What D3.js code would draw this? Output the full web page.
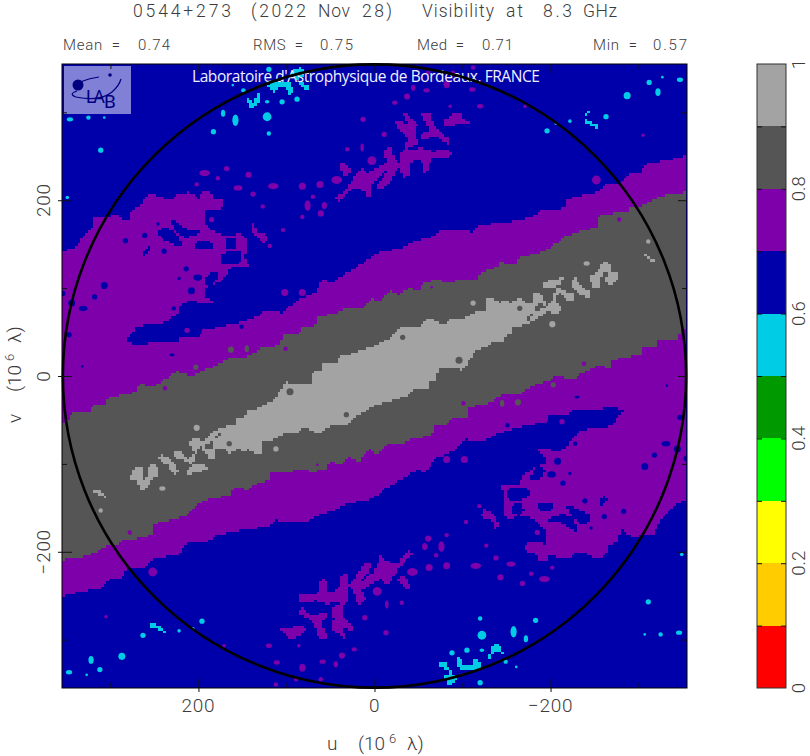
<!DOCTYPE html>
<html><head><meta charset="utf-8">
<style>html,body{margin:0;padding:0;background:#fff}svg{display:block}
text{font-family:Roboto,"Liberation Sans",sans-serif;font-weight:300;fill:#3c3c3c;white-space:pre}</style>
<script src="https://cdn.jsdelivr.net/npm/d3@7"></script></head><body><div id="c"></div>
<script>
const title=[["0544+273",133,98],["(2022",251,55],["Nov",318,32],["28)",362,30],["Visibility",422,72],["at",506,17],["8.3",543,29],["GHz",583,34]];
const stats=[["Mean  =",63,57],["0.74",138,32],["RMS  =",253,50],["0.75",320,33],["Med  =",417,47],["0.71",482,31],["Min  =",593,44],["0.57",653,34]];
const uTicksMajor=[200,0,-200], uTicksMinor=[300,100,-100,-300];
const vTicksMajor=[200,0,-200], vTicksMinor=[300,100,-100,-300];
const barLabels=[0,0.2,0.4,0.6,0.8,1];
const barTicks=[0.1,0.2,0.3,0.4,0.5,0.6,0.7,0.8,0.9];
const barColors=["#ff0000","#ffcc00","#ffff00","#00ff00","#009900","#00cce6","#0000aa","#7d00aa","#555555","#a3a3a3"];
const C={blue:"#0000aa",purple:"#7d00aa",dark:"#555555",light:"#a3a3a3",cyan:"#00cce6"};
const limit=355, circleRadius=354;
const purpleOutline=[[-355,251],[-332,245],[-311,242],[-302,231],[-290,232],[-281,220],[-264,220],[-253,209],[-220,202],[-216,191],[-191,189],[-179,181],[-146,174],[-120,172],[-112,164],[-78,166],[-63,158],[-44,152],[-29,145],[-3,140],[13,128],[31,117],[47,107],[59,109],[68,94],[88,86],[104,72],[122,75],[138,66],[153,61],[179,55],[195,52],[198,43],[221,43],[224,37],[240,37],[258,37],[269,35],[283,39],[270,56],[262,59],[236,61],[224,72],[219,83],[204,86],[199,82],[182,83],[194,92],[193,101],[179,106],[170,112],[164,124],[151,123],[143,126],[147,135],[146,157],[153,164],[162,158],[173,160],[188,168],[194,177],[193,191],[177,189],[171,194],[173,202],[181,200],[188,211],[198,208],[199,202],[211,209],[224,206],[230,200],[238,202],[255,208],[264,200],[264,194],[275,189],[281,175],[295,185],[304,179],[319,179],[321,169],[332,157],[340,147],[355,140],[355,0],[-355,0]];
const blueHoles=[
[[230,177],[224,175],[215,168],[198,164],[210,158],[221,160],[228,169]],
[[244,166],[233,167],[221,155],[220,147],[230,151],[243,158]],
[[204,149],[196,155],[185,150],[185,145],[202,145]],
[[169,155],[158,157],[156,149],[162,144],[168,147]],
[[176,135],[162,143],[153,141],[151,130],[162,128],[171,126]],
[[264,141],[257,147],[255,143],[261,137]],
[[193,109],[187,117],[177,118],[179,109],[188,102]]];
const blueDots=[[283,154,3,3],[261,160,3,3],[239,142,3,3],[214,122,3,3],[307,103,4,4],[318,90,3,3],[344,83,4,4],[331,77,5,3],[201,112,5,3.5],[208,97,4,4],[228,77,2.5,2.5],[222,111,2,2],[246,173,2,2],[354,94,3,3],[347,47,3,3],[332,11,1.5,1.5],[151,56,2.5,2.5],[230,24,3,1.5]];
const purpleIslands=[
[[45,203],[36,209],[28,220],[22,229],[13,237],[9,232],[-6,239],[-14,244],[-10,254],[-18,260],[-23,247],[-30,239],[-30,254],[-35,261],[-36,273],[-27,283],[-23,290],[-29,289],[-37,286],[-32,300],[-43,292],[-49,286],[-46,277],[-49,264],[-37,260],[-46,256],[-52,260],[-63,256],[-86,256],[-86,250],[-65,247],[-61,233],[-55,233],[-54,243],[-49,247],[-40,239],[-40,229],[-32,226],[-29,237],[-18,222],[-9,212],[-3,214],[-6,222],[-15,233],[-6,227],[3,216],[5,203],[11,209],[24,214],[39,199]],
[[-54,298],[-61,300],[-66,289],[-74,277],[-86,269],[-83,264],[-71,272],[-55,269],[-54,275],[-61,281],[-57,289]],
[[-78,290],[-83,294],[-97,300],[-101,292],[-111,291],[-103,286],[-94,286],[-83,283]],
[[40,243],[34,241],[27,231],[34,228]],
[[141,169],[138,174],[132,164],[122,160],[124,152],[133,157]]];
const purpleDots=[[193,231,6,3.5],[168,236,3,3],[178,225,2.5,2.5],[143,229,3.5,3.5],[202,218,2.5,2.5],[155,214,5,3],[138,207,3,3],[115,216,6,3.5],[82,216,4,4],[62,218,4,4],[76,194,3.5,6],[57,194,3,4],[61,185,3.5,3.5],[70,204,2.5,2.5],[127,193,2.5,2.5],[82,181,2.5,2.5],[104,166,2.5,2.5],[119,148,2.5,2.5],[43,223,6,4.5],[3,245,5,5],[31,258,2.5,2.5],[14,260,2,4.5],[-11,275,3,3],[13,292,3,3],[-23,311,3,2.5],[-37,318,3.5,3.5],[-44,328,2.5,3.5],[-59,325,3.5,2.5],[-82,332,3.5,4.5],[-111,326,3.5,2.5],[-120,307,3.5,2.5],[-86,307,2,2],[-61,345,2.5,2.5],[-89,345,2.5,2.5],[-112,351,2.5,2.5],[-171,307,2,2],[-305,274,2,2],[-252,223,5,5],[213,52,3,3],[194,49,2.5,5],[102,95,4,4],[82,95,4,4],[185,178,3,3]];
const darkUpper=[[-355,209],[-332,206],[-316,200],[-302,192],[-290,192],[-287,185],[-271,185],[-253,181],[-253,169],[-225,162],[-214,158],[-207,151],[-199,145],[-188,140],[-165,135],[-160,126],[-143,130],[-139,124],[-120,118],[-118,109],[-101,111],[-86,106],[-71,109],[-55,106],[-52,98],[-38,100],[-29,92],[-18,98],[-6,83],[2,90],[13,78],[31,77],[43,72],[65,67],[68,56],[81,56],[88,47],[104,47],[107,35],[127,32],[144,22],[161,22],[179,12],[198,5],[206,-1],[224,5],[247,-10],[258,-12],[266,-7],[270,-18],[289,-22],[303,-24],[304,-31],[320,-33],[323,-42],[344,-42],[348,-52],[355,-53]];
const grayInPurple=[[-203,-10,3,3],[-163,-30,3.5,3.5],[-145,-31,2.5,4]];
const purpleInGray=[[-238,14,2.5,2.5],[-101,-31,2.5,2.5],[-278,178,2.5,2.5],[-65,101,1.5,1.5]];
const coreHalf=[[0,34],[-18,44],[-29,55],[-48,56],[-63,66],[-78,58],[-89,66],[-103,66],[-120,75],[-127,73],[-126,86],[-130,90],[-143,83],[-148,87],[-154,83],[-165,89],[-171,83],[-180,83],[-180,94],[-188,95],[-194,84],[-196,75],[-190,69],[-180,61],[-171,58],[-157,56],[-157,49],[-146,44],[-146,37],[-133,37],[-126,32],[-116,30],[-101,7],[-74,10],[-69,-5],[-61,-7],[-61,-14],[-44,-14],[-38,-24],[-29,-25],[0,-34]];
const lightPieces=[
[[-193,78],[-202,86],[-207,100],[-219,95],[-227,92],[-227,86],[-220,87],[-211,94],[-205,86],[-211,77],[-208,72],[-202,72],[-194,75]],
[[-191,106],[-202,109],[-214,112],[-212,106],[-202,100],[-193,101]],
[[-223,109],[-228,111],[-236,101],[-245,94],[-243,90],[-231,95]],
[[-245,115],[-253,118],[-258,128],[-265,130],[-270,118],[-277,117],[-275,109],[-268,103],[-262,109],[-265,117],[-260,117],[-254,100],[-248,103]],
[[-304,141],[-311,135],[-319,134],[-319,130],[-310,133]]];
const lightDots=[[-112,83,3,3],[-202,59,3.5,3.5],[-241,128,3.5,2.5],[-311,153,2.5,2.5]];
const darkInCorePieces=[[[-183,81],[-191,84],[-193,78],[-182,72]],[[-173,66],[-179,72],[-180,68],[-174,62]]];
const darkInCoreDots=[[-165,77,3,3],[-96,18,4,4],[-32,44,3,3]];
const cyanPieces=[
[[147,317],[138,312],[131,323],[132,311],[136,306],[141,306],[145,312]],
[[121,332],[110,334],[98,334],[93,323],[96,320],[102,329],[110,328],[113,323],[121,329]],
[[94,345],[85,351],[79,343],[88,337],[82,334],[73,328],[76,324],[85,332],[90,340]],
[[-245,303],[-239,294],[-245,289],[-254,285],[-253,282],[-245,285],[-238,291]]];
const cyanDots=[[120,349,3,3],[161,331,1.5,1.5],[149,325,2.5,2.5],[122,312,2.5,2],[105,312,3,3],[88,315,3,3],[122,295,5,5],[158,291,3.5,6.5],[172,299,2.5,4],[183,278,3,3],[120,276,2.5,2.5],[346,292,3.5,2.5],[325,294,2.5,2.5],[307,294,1.5,1.5],[311,257,3,3],[349,203,2,2],[-347,337,3.5,2.5],[-312,334,3,3],[-327,340,1.5,1.5],[-322,323,3,4.5],[-287,319,4,4],[-263,295,3,3],[-222,290,2,2],[-196,279,3,3],[-206,287,1.5,1.5]];

const W=810,H=756,CELL=2.6;
const svg=d3.select("#c").append("svg").attr("width",W).attr("height",H);
const u=d3.scaleLinear().domain([limit,-limit]).range([62,687]);
const v=d3.scaleLinear().domain([-limit,limit]).range([688,64]);
const bar=d3.scaleLinear().domain([0,1]).range([688,64]);
const neg=p=>p.map(([a,b])=>[-a,-b]);
const sharp=d3.line().x(d=>u(d[0])).y(d=>v(d[1])).curve(d3.curveLinearClosed);
const soft=d3.line().x(d=>u(d[0])).y(d=>v(d[1])).curve(d3.curveCatmullRomClosed.alpha(0.5));
const probe=svg.append("path").attr("fill","none").node();
function blocky(d){
  probe.setAttribute("d",d);
  const L=probe.getTotalLength();let s="",px=null,py=null;
  for(let t=0;t<=L;t+=0.8){
    const p=probe.getPointAtLength(t);
    const x=Math.round((p.x-62)/CELL)*CELL+62, y=Math.round((p.y-64)/CELL)*CELL+64;
    if(px===null){s="M"+x.toFixed(1)+" "+y.toFixed(1);}
    else if(x!==px||y!==py){s+="L"+x.toFixed(1)+" "+py.toFixed(1)+"L"+x.toFixed(1)+" "+y.toFixed(1);}
    px=x;py=y;
  }
  return s+"Z";
}
svg.append("defs").append("clipPath").attr("id","pc").append("rect").attr("x",62).attr("y",64).attr("width",625).attr("height",624);
const g=svg.append("g").attr("clip-path","url(#pc)");
g.append("rect").attr("x",u(limit)).attr("y",v(limit)).attr("width",u(-limit)-u(limit)).attr("height",v(-limit)-v(limit)).attr("fill",C.blue);
function polys(list,color,gen){g.append("g").selectAll("path").data(list).join("path").attr("d",d=>blocky(gen(d))).attr("fill",color).attr("shape-rendering","crispEdges");}
function dots(list,color){g.append("g").selectAll("ellipse").data(list).join("ellipse")
  .attr("cx",d=>u(d[0])).attr("cy",d=>v(d[1])).attr("rx",d=>Math.abs(u(d[2])-u(0))).attr("ry",d=>Math.abs(v(d[3])-v(0))).attr("fill",color);}
const mirrorPolys=l=>l.concat(l.map(neg));
const mirrorDots=l=>l.concat(l.map(d=>[-d[0],-d[1],d[2],d[3]]));
polys(mirrorPolys([purpleOutline]),C.purple,sharp);
polys(mirrorPolys(blueHoles),C.blue,soft);
dots(mirrorDots(blueDots),C.blue);
polys(mirrorPolys(purpleIslands),C.purple,soft);
dots(mirrorDots(purpleDots),C.purple);
polys([darkUpper.concat(neg(darkUpper))],C.dark,sharp);
dots(mirrorDots(grayInPurple),C.dark);
dots(mirrorDots(purpleInGray),C.purple);
polys([coreHalf.concat(neg(coreHalf))],C.light,sharp);
polys(mirrorPolys(lightPieces),C.light,soft);
dots(mirrorDots(lightDots),C.light);
polys(mirrorPolys(darkInCorePieces),C.dark,sharp);
dots(mirrorDots(darkInCoreDots),C.dark);
polys(mirrorPolys(cyanPieces),C.cyan,soft);
dots(mirrorDots(cyanDots),C.cyan);
probe.remove();

// logo
const logo=svg.append("g");
logo.append("rect").attr("x",64).attr("y",66).attr("width",67).attr("height",48).attr("fill","#8080d6");
logo.append("circle").attr("cx",78).attr("cy",85).attr("r",5.5).attr("fill","#000080");
logo.append("circle").attr("cx",110).attr("cy",75).attr("r",1.8).attr("fill","#000080");
logo.append("path").attr("d","M80 82 Q90 78 99 77 M77 91 Q68 94 76 97 Q100 102 112 92 Q119 86 121 79").attr("fill","none").attr("stroke","#000080").attr("stroke-width",1.2);
logo.selectAll("text").data([["LA",86,103,18,-2.5],["B",104,108,19,0]]).join("text")
 .attr("x",d=>d[1]).attr("y",d=>d[2]).attr("font-size",d=>d[3]).style("letter-spacing",d=>d[4]+"px").style("fill","#000080").style("font-weight",400).text(d=>d[0]);

function fit(sel,w){sel.each(function(d){const n=this.getComputedTextLength(),c=this.getNumberOfChars();d3.select(this).style("letter-spacing",((w(d)-n)/Math.max(1,c-1)).toFixed(3)+"px");});}
const caption=["Laboratoire d'Astrophysique de Bordeaux, FRANCE"];
svg.append("g").selectAll("text").data(caption).join("text").attr("x",192).attr("y",82).attr("font-size",15.5)
 .style("font-family","'Open Sans'").style("font-weight",400).style("fill","#f0f0ff").text(d=>d).call(fit,()=>348);

svg.append("circle").attr("cx",u(0)).attr("cy",v(0)).attr("r",u(0)-u(circleRadius)).attr("fill","none").attr("stroke","#000").attr("stroke-width",2.6);

svg.append("rect").attr("x",62).attr("y",64).attr("width",625).attr("height",624).attr("fill","none").attr("stroke","#000").attr("stroke-width",1);
function styleAxis(sel){sel.select(".domain").remove();sel.selectAll("text").remove();sel.selectAll("line").attr("stroke","#111").attr("stroke-width",1);}
function ax(gen,tx,ty,vals,inner){svg.append("g").attr("transform",`translate(${tx},${ty})`).call(gen.tickValues(vals).tickSize(inner)).call(styleAxis);}
ax(d3.axisBottom(u),0,692,uTicksMajor,-13);
ax(d3.axisBottom(u),0,688,uTicksMinor,-5);
ax(d3.axisTop(u),0,64,uTicksMajor,-9);
ax(d3.axisTop(u),0,64,uTicksMinor,-5);
ax(d3.axisLeft(v),58,0,vTicksMajor,-14);
ax(d3.axisLeft(v),62,0,vTicksMinor,-5);
ax(d3.axisRight(v),687,0,vTicksMajor,-9);
ax(d3.axisRight(v),687,0,vTicksMinor,-5);

svg.append("g").selectAll("text").data(title).join("text").attr("x",d=>d[1]).attr("y",16.5).attr("font-size",17.5).text(d=>d[0]).call(fit,d=>d[2]);
svg.append("g").selectAll("text").data(stats).join("text").attr("x",d=>d[1]).attr("y",50).attr("font-size",15).text(d=>d[0]).call(fit,d=>d[2]);
const fmt=d=>(d<0?"\u2212":"")+Math.abs(d);
svg.append("g").selectAll("text").data(uTicksMajor).join("text").attr("x",d=>u(d)).attr("y",712).attr("text-anchor","middle").attr("font-size",19).style("letter-spacing","0.7px").text(fmt);
svg.append("g").selectAll("text").data(vTicksMajor).join("text").attr("transform",d=>`translate(50,${v(d)}) rotate(-90)`).attr("text-anchor","middle").attr("font-size",19).style("letter-spacing","0.7px").text(fmt);
const ul=svg.append("text").attr("x",327).attr("y",750).attr("font-size",19);
ul.append("tspan").text("u");ul.append("tspan").attr("x",358).text("(10");ul.append("tspan").attr("dy",-7).attr("x",389).attr("font-size",13).text("6");ul.append("tspan").attr("dy",7).attr("x",407).text("\u03bb)");
const vl=svg.append("text").attr("transform","translate(21,423) rotate(-90)").attr("font-size",19);
vl.append("tspan").attr("x",0).text("v");vl.append("tspan").attr("x",31).text("(10");vl.append("tspan").attr("dy",-7).attr("x",62).attr("font-size",13).text("6");vl.append("tspan").attr("dy",7).attr("x",80).text("\u03bb)");

const cb=svg.append("g");
cb.selectAll("rect").data(barColors).join("rect").attr("x",757).attr("width",29).attr("y",(d,i)=>bar((i+1)/10)).attr("height",(d,i)=>bar(i/10)-bar((i+1)/10)).attr("fill",d=>d).attr("shape-rendering","crispEdges");
cb.append("rect").attr("x",757).attr("y",64).attr("width",29).attr("height",624).attr("fill","none").attr("stroke","#333").attr("stroke-width",1);
svg.append("g").attr("transform","translate(757,0)").call(d3.axisLeft(bar).tickValues(barTicks).tickSize(-5)).call(styleAxis);
svg.append("g").attr("transform","translate(786,0)").call(d3.axisRight(bar).tickValues(barTicks).tickSize(-5)).call(styleAxis);
svg.append("g").selectAll("text").data(barLabels).join("text").attr("transform",d=>`translate(805,${bar(d)}) rotate(-90)`).attr("text-anchor","middle").attr("font-size",18.5).text(d=>d);
</script></body></html>
